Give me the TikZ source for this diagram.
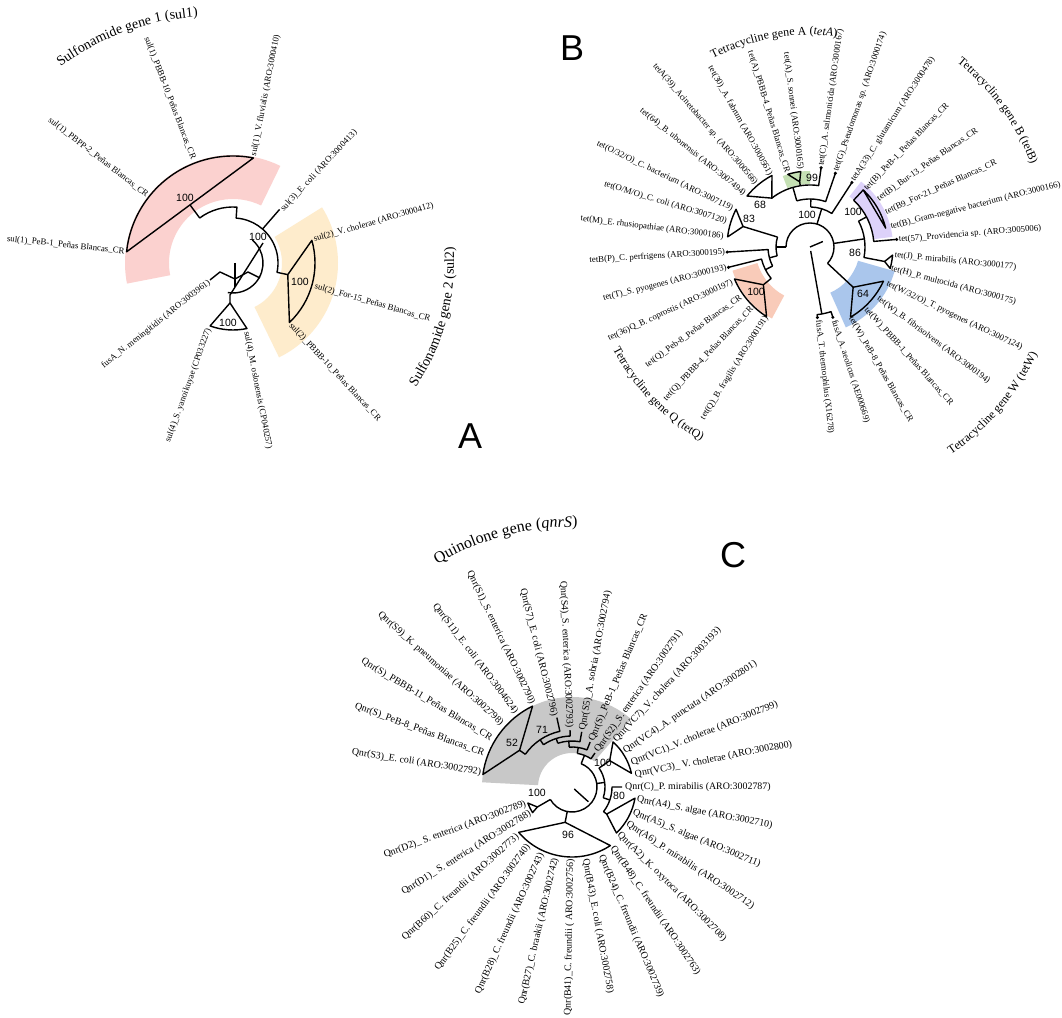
\documentclass[tikz,border=0pt]{standalone}
\usepackage{fontspec}
\setmainfont{Liberation Serif}
\newfontfamily\arialfam{Liberation Sans}
\usetikzlibrary{decorations.text}
\definecolor{pinkA}{RGB}{251,209,207}
\definecolor{orangeA}{RGB}{254,236,204}
\definecolor{greenB}{RGB}{197,224,180}
\definecolor{purpleB}{RGB}{221,210,250}
\definecolor{salmonB}{RGB}{249,203,185}
\definecolor{blueB}{RGB}{170,198,236}
\definecolor{greyC}{RGB}{200,200,200}
\newcommand\ttlA{\fontsize{14}{14}\selectfont}
\newcommand\ttlB{\fontsize{12}{12}\selectfont}
\newcommand\ttlC{\fontsize{16}{16}\selectfont}
\begin{document}
\begin{tikzpicture}[x=1pt, y=1pt,
  tree/.style={draw=black, line width=1.4pt, line join=round},
  lab/.style={font=\fontsize{8.8}{9}\selectfont, inner sep=1pt},
  labC/.style={font=\fontsize{9.9}{11}\selectfont, inner sep=1pt},
  lr/.style={anchor=west, rotate=-#1},
  ll/.style={anchor=east, rotate=180-#1},
  bs/.style={font=\arialfam\fontsize{10.5}{11}\selectfont, inner sep=0pt},
  letter/.style={font=\arialfam\fontsize{36}{36}\selectfont, inner sep=0pt}]
\useasboundingbox (0,0) rectangle (1062,1017);
\fill[white] (0,0) rectangle (1062,1017);
\begin{scope}[yshift=1017pt, yscale=-1]
  % (A) sulfonamide tree
  \begin{scope}[shift={(233,263)}]
    \fill[pinkA] (169:64) arc[start angle=169, end angle=296, radius=64] -- (296:108) arc[start angle=296, end angle=169, radius=108] -- cycle;
    \fill[orangeA] (-32:49) arc[start angle=-32, end angle=64, radius=49] -- (64:105) arc[start angle=64, end angle=-32, radius=105] -- cycle;
    \draw[tree] (186:107) arc[start angle=186, end angle=281, radius=107] -- cycle;
    \draw[tree] (233.5:72) -- (233.5:56) arc[start angle=233.5, end angle=274, radius=56] -- (274:45) arc[start angle=274, end angle=372, radius=45] -- (12:56);
    \draw[tree] (311:45) -- (311:71);
    \draw[tree] (12:56) -- (344:82) arc[start angle=344, end angle=406.5, radius=82] -- cycle;
    \draw[tree] (-50:30) arc[start angle=-50, end angle=100, radius=30];
    \draw[tree] (-3,40) -- (-3,32) -- (30,-20);
    \draw[tree] (-3,40) -- (110:67) arc[start angle=110, end angle=78, radius=67] -- cycle;
    \draw[tree] (-23,17) -- (-13,9) -- (2,16) -- (15,9) -- (27,15);
    \draw[tree] (2,0) -- (2,24);
    \node[bs] (bA1) at (-48,-65) {100};
    \node[bs] (bA2) at (25,-26) {100};
    \node[bs] (bA3) at (67,19) {100};
    \node[bs] (bA4) at (-5,60) {100};
    \node[lab, ll=186] (a1) at (186:108) {sul(1)\_PeB-1\_Peñas Blancas\_CR};
    \node[lab, ll=218] (a2) at (218:108) {sul(1)\_PBPP-2\_Peñas Blancas\_CR};
    \node[lab, ll=249] (a3) at (249:110) {sul(1)\_PBBB-10\_Peñas Blancas\_CR};
    \node[lab, lr=281] (a4) at (281:108) {sul(1)\_V. fluvialis (ARO:3000410)};
    \node[lab, lr=313] (a5) at (313:71) {sul(3)\_E. coli (ARO:3000413)};
    \node[lab, lr=344] (a6) at (344:83) {sul(2)\_V. cholerae (ARO:3000412)};
    \node[lab, lr=16] (a7) at (16:84) {sul(2)\_For-15\_Peñas Blancas\_CR};
    \node[lab, lr=47] (a8) at (47:83) {sul(2)\_PBBB-10\_Peñas Blancas\_CR};
    \node[lab, lr=79] (a9) at (79:69) {sul(4)\_M. oslonensis (CP040257)};
    \node[lab, ll=110] (a10) at (110:69) {sul(4)\_S. yanoikuyae (CP033227)};
    \node[lab, ll=141.5] (a11) at (141.5:29) {fusA\_N. meningitidis (ARO:3003961)};
  \end{scope}
  % (B) tetracycline tree
  \begin{scope}[shift={(810,247)}]
    \fill[greenB] (249:63) arc[start angle=249, end angle=270, radius=63] -- (270:76) arc[start angle=270, end angle=249, radius=76] -- cycle;
    \fill[purpleB] (308:64) arc[start angle=308, end angle=353, radius=64] -- (353:83) arc[start angle=353, end angle=308, radius=83] -- cycle;
    \fill[salmonB] (118:55) arc[start angle=118, end angle=163, radius=55] -- (163:81) arc[start angle=163, end angle=118, radius=81] -- cycle;
    \fill[blueB] (16:50) arc[start angle=16, end angle=66, radius=50] -- (66:88) arc[start angle=66, end angle=16, radius=88] -- cycle;
    \draw[tree] (0,0) -- (337:14);
    \draw[tree] (180:24) arc[start angle=180, end angle=403, radius=24];
    \draw[tree] (80:4) -- (80:68);
    \draw[tree] (72:74) -- (72:68) arc[start angle=72, end angle=84, radius=68] -- (84:71);
    % left part
    \draw[tree] (180:24) -- (180:34);
    \draw[tree] (165:34) arc[start angle=165, end angle=197, radius=34];
    \draw[tree] (197:34) -- (197:70);
    \draw[tree] (197:70) -- (187:83) arc[start angle=187, end angle=207, radius=83] -- cycle;
    \draw[tree] (165:34) -- (165:42);
    \draw[tree] (153:42) arc[start angle=153, end angle=176.5, radius=42] -- (176.5:83);
    \draw[tree] (153:42) -- (153:50);
    \draw[tree] (166:84) -- (166:50) arc[start angle=166, end angle=141, radius=50] -- (141:60);
    \draw[tree] (141:60) -- (157:82) arc[start angle=157, end angle=122, radius=82] -- cycle;
    % top part
    \draw[tree] (287:24) -- (287:40);
    \draw[tree] (271:40) arc[start angle=271, end angle=303, radius=40] -- (303:77);
    \draw[tree] (271:40) -- (271:48);
    \draw[tree] (254:48) arc[start angle=254, end angle=289, radius=48] -- (289:78);
    \draw[tree] (254:48) -- (254:62);
    \draw[tree] (232:62) arc[start angle=232, end angle=278, radius=62] -- (278:80);
    \draw[tree] (261:62) -- (261:66);
    \draw[tree] (261:66) -- (253:76) arc[start angle=253, end angle=263, radius=76] -- cycle;
    \draw[tree] (232:62) -- (219:81) arc[start angle=219, end angle=242, radius=81] -- cycle;
    % right part
    \draw[tree] (351.5:24) -- (351.5:55);
    \draw[tree] (332:55) arc[start angle=332, end angle=371, radius=55] -- (371:76);
    \draw[tree] (11:76) -- (5.6:83) arc[start angle=5.6, end angle=15, radius=83] -- cycle;
    \draw[tree] (332:55) -- (332:64);
    \draw[tree] (313:64) arc[start angle=313, end angle=355, radius=64] -- (355:87);
    \draw[tree] (313:64) -- (313:78);
    \draw[tree] (313:78) arc[start angle=313, end angle=346, radius=78] -- cycle;
    \draw[tree] (43:24) -- (43:59);
    \draw[tree] (43:59) -- (25:81) arc[start angle=25, end angle=60, radius=81] -- cycle;
    \foreach \a/\r in {278/80, 289/78, 303/77, 355/87, 176.5/83, 166/84, 72/74, 84/71}
      \fill (\a:\r) circle[radius=1.7];
    \node[bs] (bB1) at (-3,-32) {100};
    \node[bs] (bB2) at (-50,-42) {68};
    \node[bs] (bB3) at (-61,-28) {83};
    \node[bs] (bB4) at (2,-69) {99};
    \node[bs] (bB5) at (43,-35) {100};
    \node[bs] (bB6) at (45,6) {86};
    \node[bs] (bB7) at (53,47) {64};
    \node[bs] (bB8) at (-54,45) {100};
    \node[lab, lr=83.6] (b1) at (83.6:73) {fusA\_T. thermophilus (X16278)};
    \node[lab, lr=72] (b2) at (72:76) {fusA\_A. aeolicus (AE000669)};
    \node[lab, lr=60] (b3) at (60:80) {tet(W)\_PeB-8\_Peñas Blancas\_CR};
    \node[lab, lr=48] (b4) at (48:82) {tet(W)\_PBBB-1\_Peñas Blancas\_CR};
    \node[lab, lr=37] (b5) at (37:84) {tet(W)\_B. fibrisolvens (ARO:3000194)};
    \node[lab, lr=25.5] (b6) at (25.5:84) {tet(W/32/O)\_T. pyogenes (ARO:3007124)};
    \node[lab, lr=15] (b7) at (15:83) {tet(H)\_P. multocida (ARO:3000175)};
    \node[lab, lr=5.6] (b8) at (5.6:84) {tet(J)\_P. mirabilis (ARO:3000177)};
    \node[lab, lr=355.4] (b9) at (355.4:88) {tet(57)\_Providencia sp. (ARO:3005006)};
    \node[lab, lr=346] (b10) at (346:82) {tet(B)\_Gram-negative bacterium (ARO:3000166)};
    \node[lab, lr=335.6] (b11) at (335.6:82) {tet(B9\_For-21\_Peñas Blancas\_CR};
    \node[lab, lr=325] (b12) at (325:82) {tet(B)\_Bur-13\_Peñas Blancas\_CR};
    \node[lab, lr=314] (b13) at (314:79) {tet(B)\_PeB-1\_Peñas Blancas\_CR};
    \node[lab, lr=303] (b14) at (303:78) {tetA(33)\_C. glutamicum (ARO:3000478)};
    \node[lab, lr=289] (b15) at (289:79) {tet(G)\_Pseudomonas sp. (ARO:3000174)};
    \node[lab, lr=278] (b16) at (278:81) {tet(C)\_A. salmonicida (ARO:3000167)};
    \node[lab, ll=263] (b17) at (263:77) {tet(A)\_S. sonnei (ARO:3000165)};
    \node[lab, ll=253] (b18) at (253:77) {tet(A)\_PBBB-4\_Peñas Blancas\_CR};
    \node[lab, ll=241] (b19) at (241:81) {tet(30)\_A. fabrum (ARO:3000561)};
    \node[lab, ll=229.5] (b20) at (229.5:82) {tetA(39)\_Acinetobacter sp. (ARO:3000566)};
    \node[lab, ll=219] (b21) at (219:83) {tet(64)\_B. ubonensis (ARO:3007494)};
    \node[lab, ll=206] (b22) at (206:85) {tet(O/32/O)\_C. bacterium (ARO:3007119)};
    \node[lab, ll=197] (b23) at (197:86) {tet(O/M/O)\_C. coli (ARO:3007120)};
    \node[lab, ll=187] (b24) at (187:86) {tet(M)\_E. rhusiopathiae (ARO:3000186)};
    \node[lab, ll=176.5] (b25) at (176.5:84) {tetB(P)\_C. perfrigens (ARO:3000195)};
    \node[lab, ll=166] (b26) at (166:85) {tet(T)\_S. pyogenes (ARO:3000193)};
    \node[lab, ll=155.5] (b27) at (155.5:84) {tet(36)Q\_B. coprostis (ARO:3000197)};
    \node[lab, ll=144] (b28) at (144:84) {tet(Q)\_Peb-8\_Peñas Blancas\_CR};
    \node[lab, ll=133.5] (b29) at (133.5:83) {tet(Q)\_PBBB-4\_Peñas Blancas\_CR};
    \node[lab, ll=122] (b30) at (122:81) {tet(Q)\_B. fragilis (ARO:3000191)};
  \end{scope}
  % (C) quinolone tree
  \begin{scope}[shift={(572,787)}]
    \fill[greyC] (183:34) arc[start angle=183, end angle=311, radius=34] -- (311:90) arc[start angle=311, end angle=183, radius=90] -- cycle;
    \draw[tree] (42:3) -- (42:22);
    \draw[tree] (150:25) arc[start angle=150, end angle=-68.5, radius=25];
    \draw[tree] (150:25) -- (150:40);
    \draw[tree] (150:40) -- (147:47) arc[start angle=147, end angle=160, radius=47] -- cycle;
    \draw[tree] (101:25) -- (101:36);
    \draw[tree] (101:36) -- (139.6:70) arc[start angle=139.6, end angle=56.8, radius=70] -- cycle;
    \draw[tree] (352:25) -- (352:33);
    \draw[tree] (-35:33) arc[start angle=-35, end angle=19, radius=33];
    \draw[tree] (-35:33) -- (-35:46);
    \draw[tree] (-35:46) -- (-47.7:61) arc[start angle=-47.7, end angle=-13, radius=61] -- cycle;
    \draw[tree] (19:33) -- (19:40);
    \draw[tree] (0:50) -- (0:40) arc[start angle=0, end angle=38, radius=40] -- (38:44);
    \draw[tree] (38:44) -- (10:64) arc[start angle=10, end angle=46, radius=64] -- cycle;
    \draw[tree] (291.5:25) -- (291.5:34);
    \draw[tree] (279:34) arc[start angle=279, end angle=304, radius=34] -- (304:41);
    \draw[tree] (279:34) -- (279:40);
    \draw[tree] (266:40) arc[start angle=266, end angle=292, radius=40] -- (292:48.5);
    \draw[tree] (266:40) -- (266:46);
    \draw[tree] (252:46) arc[start angle=252, end angle=280, radius=46] -- (280:56);
    \draw[tree] (252:46) -- (252:51);
    \draw[tree] (236:51) arc[start angle=236, end angle=268, radius=51] -- (268:57);
    \draw[tree] (236:51) -- (236:57);
    \draw[tree] (215:57) arc[start angle=215, end angle=257.7, radius=57] -- (257.7:71);
    \draw[tree] (215:57) -- (215:64);
    \draw[tree] (215:64) -- (188:90) arc[start angle=188, end angle=244, radius=90] -- cycle;
    \node[bs] (bC1) at (-60,-44) {52};
    \node[bs] (bC2) at (-30,-57) {71};
    \node[bs] (bC3) at (31,-24) {100};
    \node[bs] (bC4) at (47,9) {80};
    \node[bs] (bC5) at (-35,6) {100};
    \node[bs] (bC6) at (-4,48) {96};
    \node[labC, ll=189] (c1) at (189:91) {Qnr(S3)\_E. coli (ARO:3002792)};
    \node[labC, ll=200.5] (c2) at (200.5:93) {Qnr(S)\_PeB-8\_Peñas Blancas\_CR};
    \node[labC, ll=211] (c3) at (211:93) {Qnr(S)\_PBBB-11\_Peñas Blancas\_CR};
    \node[labC, ll=222] (c4) at (222:93) {Qnr(S9)\_K. pneumoniae (ARO:3002798)};
    \node[labC, ll=233] (c5) at (233:92) {Qnr(S11)\_E. coli (ARO:3004624)};
    \node[labC, ll=244.5] (c6) at (244.5:91) {Qnr(S1)\_S. enterica (ARO:3002790)};
    \node[labC, ll=256] (c7) at (256:72) {Qnr(S7)\_E. coli (ARO:3002796)};
    \node[labC, ll=267.5] (c8) at (267.5:58) {Qnr(S4)\_S. enterica (ARO:3002793)};
    \node[labC, lr=280.5] (c9) at (280.5:57) {Qnr(S5)\_A. sobria (ARO:3002794)};
    \node[labC, lr=293] (c10) at (293:49) {Qnr(S)\_PeB-1\_Peñas Blancas\_CR};
    \node[labC, lr=305] (c11) at (305:42) {Qnr(S2)\_S. enterica (ARO:3002791)};
    \node[labC, lr=313] (c12) at (313:62) {Qnr(VC7)\_V. cholera (ARO:3003193)};
    \node[labC, lr=326] (c13) at (326:62) {Qnr(VC4)\_A. punctata (ARO:3002801)};
    \node[labC, lr=338] (c14) at (338:63) {Qnr(VC1)\_V. cholerae (ARO:3002799)};
    \node[labC, lr=349] (c15) at (349:63) {Qnr(VC3)\_ V. cholerae (ARO:3002800)};
    \node[labC, lr=0] (c16) at (0:52) {Qnr(C)\_P. mirabilis (ARO:3002787)};
    \node[labC, lr=11] (c17) at (11:65) {Qnr(A4)\_S. algae (ARO:3002710)};
    \node[labC, lr=22.5] (c18) at (22.5:65) {Qnr(A5)\_S. algae (ARO:3002711)};
    \node[labC, lr=33.5] (c19) at (33.5:65) {Qnr(A6)\_P. mirabilis (ARO:3002712)};
    \node[labC, lr=45] (c20) at (45:65) {Qnr(A2)\_K. oxytoca (ARO:3002708)};
    \node[labC, lr=56] (c21) at (56:71) {Qnr(B48)\_C. freundii (ARO:3002763)};
    \node[labC, lr=67] (c22) at (67:73) {Qnr(B24)\_C. freundii (ARO:3002739)};
    \node[labC, lr=79.5] (c23) at (79.5:72) {Qnr(B43)\_E. coli (ARO:3002758)};
    \node[labC, ll=91] (c24) at (91:71) {Qnr(B41)\_C. freundii ( ARO:3002756)};
    \node[labC, ll=103] (c25) at (103:72) {Qnr(B27)\_C. braakii (ARO:3002742)};
    \node[labC, ll=114.5] (c26) at (114.5:72) {Qnr(B28)\_C. freundii (ARO:3002743)};
    \node[labC, ll=126.5] (c27) at (126.5:72) {Qnr(B25)\_C. freundii (ARO:3002740)};
    \node[labC, ll=138] (c28) at (138:72) {Qnr(B60)\_C. freundii (ARO:3002773)};
    \node[labC, ll=148] (c29) at (148:48) {Qnr(D1)\_ S. enterica (ARO:3002788)};
    \node[labC, ll=160] (c30) at (160:48) {Qnr(D2)\_ S. enterica (ARO:3002789)};
  \end{scope}
  % panel letters
  \node[letter] (pA) at (470,436) {A};
  \node[letter] (pB) at (572,48) {B};
  \node[letter] (pC) at (733,555) {C};
\end{scope}
% curved clade titles
\begin{scope}[shift={(216,737)}]
  \path[decorate, decoration={text along path, text align=center, text={|\ttlA|Sulfonamide gene 1 (sul1)}}] (155:264) arc[start angle=155, end angle=65, radius=264];
\end{scope}
\begin{scope}[shift={(233,754)}]
  \path[decorate, decoration={text along path, text align=center, text={|\ttlA|Sulfonamide gene 2 (sul2)}}] (-55:221) arc[start angle=-55, end angle=25, radius=221];
\end{scope}
\begin{scope}[shift={(810,770)}]
  \path[decorate, decoration={text along path, text align=center, text={|\ttlB|Tetracycline gene A (|\ttlB\itshape|tetA|\ttlB\upshape|)}}] (145:212) arc[start angle=145, end angle=55, radius=212];
  \path[decorate, decoration={text along path, text align=center, text={|\ttlB|Tetracycline gene B (tetB)}}] (81:236) arc[start angle=81, end angle=-9, radius=236];
  \path[decorate, decoration={text along path, text align=center, text={|\ttlB|Tetracycline gene Q (tetQ)}}] (-181:222) arc[start angle=-181, end angle=-91, radius=222];
  \path[decorate, decoration={text along path, text align=center, text={|\ttlB|Tetracycline gene W (tetW)}}] (-85:251) arc[start angle=-85, end angle=4, radius=251];
\end{scope}
\begin{scope}[shift={(572,230)}]
  \path[decorate, decoration={text along path, text align=center, text={|\ttlC|Quinolone gene (|\ttlC\itshape|qnrS|\ttlC\upshape|)}}] (150:260) arc[start angle=150, end angle=60, radius=260];
\end{scope}
\end{tikzpicture}
\end{document}
